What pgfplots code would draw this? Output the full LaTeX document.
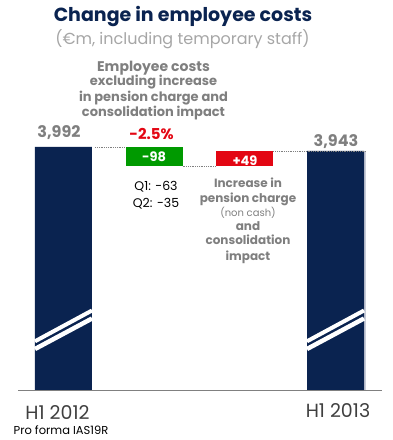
\documentclass[border=0pt]{standalone}
\usepackage{pgfplots}
\pgfplotsset{compat=1.18}
\usepackage{fontspec}
\setmainfont{Poppins}
\definecolor{navy}{HTML}{0A2350}
\definecolor{wgreen}{HTML}{009A00}
\definecolor{wred}{HTML}{E30613}
\definecolor{tgrey}{HTML}{7F7F7F}
\definecolor{sgrey}{HTML}{A6A6A6}
\definecolor{dgrey}{HTML}{404040}
\definecolor{edge}{HTML}{C8CCD8}
\begin{document}
\begin{tikzpicture}[x=1pt,y=1pt]
\useasboundingbox (-18,-50) rectangle (374,390);
\begin{axis}[
  scale only axis, width=364pt, height=260pt,
  xmin=-0.5018, xmax=3.5128,
  ymin=0, ymax=4200.25,
  y coord trafo/.code={\pgfmathparse{#1<3894 ? #1*0.0575244 : (#1<3943 ? 224+(#1-3894)*0.3061224 : 239+(#1-3943)*0.0816327)}},
  axis lines=none, clip=false,
]
% start and end totals
\addplot[ybar, bar width=57pt, bar shift=1.5pt, fill=edge, draw=none] coordinates {(3,3943)};
\addplot[ybar, bar width=57pt, bar shift=0pt, fill=navy, draw=none] coordinates {(0,3992) (3,3943)};
% floating bars
\addplot[fill=wgreen, draw=none] coordinates {(0.6857,3894) (1.3143,3894) (1.3143,3992) (0.6857,3992)} -- cycle;
\addplot[fill=wred, draw=none] coordinates {(1.6857,3894) (2.3143,3894) (2.3143,3943) (1.6857,3943)} -- cycle;
% connectors
\addplot[gray, densely dotted, line width=0.8pt] coordinates {(0.35,3992) (0.6857,3992)};
\addplot[gray, densely dotted, line width=0.8pt] coordinates {(1.3143,3894) (1.6857,3894)};
\addplot[gray, densely dotted, line width=0.8pt] coordinates {(2.3143,3943) (3.336,3943)};
\end{axis}
% axis line
\draw[gray, line width=0.8pt] (0,0) -- (364,0);
% break marks
\foreach \xa/\xb in {17/74, 289/346} {
  \draw[white, line width=4pt] (\xa,48.7) -- (\xb,79.5);
  \draw[white, line width=4.5pt] (\xa,41) -- (\xb,71.5);
}
% titles
\node[text=navy, font=\bfseries\fontsize{19}{21}\selectfont] at (165,373.5) {Change in employee costs};
\node[text=sgrey, font=\fontsize{16}{18}\selectfont] at (164.5,350.5) {(€m, including temporary staff)};
% annotation left
\begin{scope}[every node/.style={text=tgrey, anchor=base}]
\node[font=\bfseries\fontsize{14}{16}\selectfont] at (135.5,318) {Employee costs};
\node[font=\bfseries\fontsize{13}{15}\selectfont] at (135.5,304) {excluding increase};
\node[font=\bfseries\fontsize{13}{15}\selectfont] at (135.5,288.5) {in pension charge and};
\node[font=\bfseries\fontsize{13}{15}\selectfont] at (135.5,273.5) {consolidation impact};
\node[font=\bfseries\fontsize{16}{18}\selectfont] at (41,252) {3,992};
\node[font=\bfseries\fontsize{16}{18}\selectfont] at (318,243.3) {3,943};
\node[font=\bfseries\fontsize{12}{14}\selectfont] at (230,202.3) {Increase in};
\node[font=\bfseries\fontsize{12}{14}\selectfont] at (230,187.3) {pension charge};
\node[font=\fontsize{10}{12}\selectfont] at (230,174) {(non cash)};
\node[font=\bfseries\fontsize{12}{14}\selectfont] at (230,160) {and};
\node[font=\bfseries\fontsize{12}{14}\selectfont] at (230,145.7) {consolidation};
\node[font=\bfseries\fontsize{12}{14}\selectfont] at (230,130) {impact};
\end{scope}
\node[anchor=base, text=wred, font=\bfseries\fontsize{15}{17}\selectfont] at (133.5,251) {-2.5\%};
\node[anchor=base, text=white, font=\bfseries\fontsize{13}{15}\selectfont] at (136,228) {-98};
\node[anchor=base, text=white, font=\bfseries\fontsize{13}{15}\selectfont] at (227,225) {+49};
\node[anchor=base, text=black, font=\fontsize{12.5}{14}\selectfont] at (138,199) {Q1: -63};
\node[anchor=base, text=black, font=\fontsize{12.5}{14}\selectfont] at (138,182.3) {Q2: -35};
% categories
\node[anchor=base, text=dgrey, font=\fontsize{19}{21}\selectfont] at (39.5,-29) {H1 2012};
\node[anchor=base, text=dgrey, font=\fontsize{19}{21}\selectfont] at (320,-27.3) {H1 2013};
\node[anchor=base, text=black, font=\fontsize{11.5}{13}\selectfont] at (43,-44) {Pro forma IAS19R};
\end{tikzpicture}
\end{document}
